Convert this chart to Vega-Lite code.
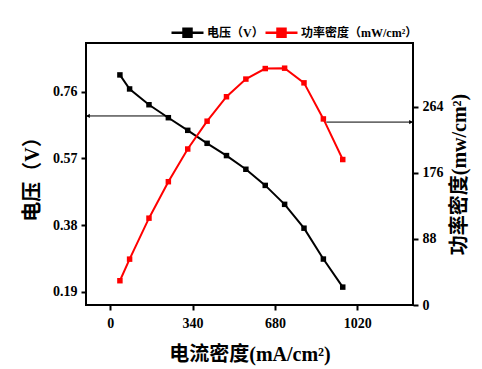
{
  "$schema": "https://vega.github.io/schema/vega-lite/v6.json",
  "autosize": "none",
  "width": 327,
  "height": 262,
  "padding": {"left": 86, "top": 43, "right": 69, "bottom": 64},
  "background": "white",
  "config": {
    "font": "'Liberation Serif', 'Noto Sans CJK SC', serif",
    "view": {"stroke": "black", "strokeWidth": 2},
    "axis": {
      "domain": false,
      "grid": false,
      "ticks": true,
      "tickColor": "black",
      "tickWidth": 2,
      "tickSize": 5,
      "labelFont": "'Liberation Serif', serif",
      "labelFontWeight": "bold",
      "labelFontSize": 14,
      "labelColor": "black",
      "titleFont": "'Liberation Serif', 'Noto Sans CJK SC', serif",
      "titleFontWeight": "bold",
      "titleFontSize": 20,
      "titleColor": "black"
    },
    "legend": {
      "labelFont": "'Liberation Serif', 'Noto Sans CJK SC', serif",
      "labelFontWeight": "bold",
      "labelFontSize": 12,
      "labelColor": "black"
    }
  },
  "datasets": {
    "main": [
      {"I": 40, "V": 0.808, "P": 32.3},
      {"I": 80, "V": 0.768, "P": 61.0},
      {"I": 160, "V": 0.723, "P": 115.5},
      {"I": 240, "V": 0.686, "P": 164.0},
      {"I": 320, "V": 0.650, "P": 207.5},
      {"I": 400, "V": 0.613, "P": 244.5},
      {"I": 480, "V": 0.578, "P": 277.0},
      {"I": 560, "V": 0.539, "P": 300.5},
      {"I": 640, "V": 0.493, "P": 314.5},
      {"I": 720, "V": 0.439, "P": 315.0},
      {"I": 800, "V": 0.371, "P": 295.5},
      {"I": 880, "V": 0.283, "P": 247.5},
      {"I": 960, "V": 0.203, "P": 193.5}
    ],
    "arrowLeft": [{"I": -100, "I2": 237, "V": 0.691}],
    "arrowRight": [{"I": 1250, "I2": 892, "P": 243.3}]
  },
  "encoding": {
    "x": {
      "field": "I",
      "type": "quantitative",
      "scale": {"domain": [-100, 1250], "nice": false, "zero": false},
      "axis": {"values": [0, 340, 680, 1020], "format": "d", "title": "电流密度(mA/cm²)", "titlePadding": 14, "labelPadding": 6}
    }
  },
  "layer": [
    {
      "encoding": {
        "y": {
          "field": "V",
          "type": "quantitative",
          "scale": {"domain": [0.152, 0.899], "nice": false, "zero": false},
          "axis": {"values": [0.19, 0.38, 0.57, 0.76], "format": ".2f", "title": "电压（V）", "titlePadding": 10, "labelPadding": 4}
        }
      },
      "layer": [
        {
          "data": {"name": "main"},
          "mark": {"type": "line", "color": "black", "strokeWidth": 2}
        },
        {
          "data": {"name": "main"},
          "mark": {"type": "point", "shape": "square", "filled": true, "size": 30, "opacity": 1},
          "encoding": {
            "color": {
              "datum": "电压（V）",
              "type": "nominal",
              "scale": {"domain": ["电压（V）", "功率密度（mW/cm²）"], "range": ["black", "#ff0000"]},
              "legend": {
                "orient": "none",
                "legendX": 84,
                "legendY": -28,
                "direction": "horizontal",
                "title": null,
                "symbolType": "M-1,0H1M-0.25,-0.25H0.25V0.25H-0.25Z",
                "symbolSize": 1024,
                "symbolStrokeWidth": 2.5,
                "symbolOpacity": 1,
                "labelOffset": 2,
                "columnPadding": -6,
                "encode": {
                  "symbols": {"update": {"stroke": {"scale": "color", "field": "value"}, "fill": {"scale": "color", "field": "value"}, "strokeWidth": {"value": 2.5}}}
                }
              }
            }
          }
        },
        {
          "data": {"name": "arrowLeft"},
          "mark": {"type": "rule", "color": "black", "strokeWidth": 1},
          "encoding": {"x2": {"field": "I2"}}
        },
        {
          "data": {"name": "arrowLeft"},
          "mark": {"type": "point", "shape": "triangle-left", "filled": true, "size": 18, "color": "black", "opacity": 1, "xOffset": 2}
        }
      ]
    },
    {
      "encoding": {
        "y": {
          "field": "P",
          "type": "quantitative",
          "scale": {"domain": [0, 348.5], "nice": false, "zero": false},
          "axis": {"orient": "right", "values": [0, 88, 176, 264], "title": "功率密度(mw/cm²)", "titleAngle": -90, "titleBaseline": "top", "titlePadding": 6, "labelPadding": 4}
        }
      },
      "layer": [
        {
          "data": {"name": "main"},
          "mark": {"type": "line", "color": "#ff0000", "strokeWidth": 2}
        },
        {
          "data": {"name": "main"},
          "mark": {"type": "point", "shape": "square", "filled": true, "size": 30, "opacity": 1},
          "encoding": {
            "color": {"datum": "功率密度（mW/cm²）", "type": "nominal"}
          }
        },
        {
          "data": {"name": "arrowRight"},
          "mark": {"type": "rule", "color": "black", "strokeWidth": 1},
          "encoding": {"x2": {"field": "I2"}}
        },
        {
          "data": {"name": "arrowRight"},
          "mark": {"type": "point", "shape": "triangle-right", "filled": true, "size": 18, "color": "black", "opacity": 1, "xOffset": -2}
        }
      ]
    }
  ],
  "resolve": {"scale": {"y": "independent"}}
}
